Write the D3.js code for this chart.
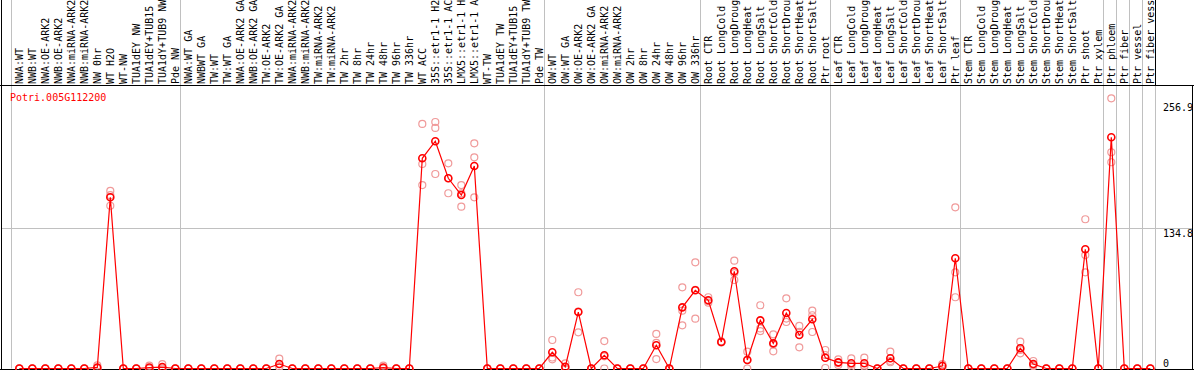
<!DOCTYPE html>
<html>
<head>
<meta charset="utf-8">
<script src="https://d3js.org/d3.v7.min.js"></script>
<style>
  body { margin: 0; background: #fff; }
  text { font-family: "DejaVu Sans Mono", monospace; font-size: 10px; }
</style>
</head>
<body>
<div id="my_dataviz"></div>
<script>

var geneId = "Potri.005G112200";

var labels = [
    "NWA:WT", "NWB:WT", "NWA:OE-ARK2", "NWB:OE-ARK2", "NWA:miRNA-ARK2", "NWB:miRNA-ARK2",
    "NW 0hr", "WT H2O", "WT-NW", "TUA1dEY NW", "TUA1dEY+TUB15", "TUA1dY+TUB9 NW", "Pde NW",
    "NWA:WT GA", "NWBWT GA", "TW:WT", "TW:WT GA", "NWA:OE-ARK2 GA", "NWB:OE-ARK2 GA",
    "TW:OE-ARK2", "TW:OE-ARK2 GA", "NWA:miRNA-ARK2", "NWB:miRNA-ARK2", "TW:miRNA-ARK2",
    "TW:miRNA-ARK2", "TW 2hr", "TW 8hr", "TW 24hr", "TW 48hr", "TW 96hr", "TW 336hr",
    "WT ACC", "35S::etr1-1 H2", "35S::etr1-1 AC", "LMX5::etr1-1 H", "LMX5::etr1-1 A",
    "WT-TW", "TUA1dEY TW", "TUA1dEY+TUB15", "TUA1dY+TUB9 TW", "Pde TW",
    "OW:WT", "OW:WT GA", "OW:OE-ARK2", "OW:OE-ARK2 GA", "OW:miRNA-ARK2", "OW:miRNA-ARK2",
    "OW 2hr", "OW 8hr", "OW 24hr", "OW 48hr", "OW 96hr", "OW 336hr",
    "Root CTR", "Root LongCold", "Root LongDroug", "Root LongHeat", "Root LongSalt",
    "Root ShortCold", "Root ShortDrou", "Root ShortHeat", "Root ShortSalt", "Ptr root",
    "Leaf CTR", "Leaf LongCold", "Leaf LongDroug", "Leaf LongHeat", "Leaf LongSalt",
    "Leaf ShortCold", "Leaf ShortDrou", "Leaf ShortHeat", "Leaf ShortSalt", "Ptr leaf",
    "Stem CTR", "Stem LongCold", "Stem LongDroug", "Stem LongHeat", "Stem LongSalt",
    "Stem ShortCold", "Stem ShortDrou", "Stem ShortHeat", "Stem ShortSalt",
    "Ptr shoot", "Ptr xylem", "Ptr phloem", "Ptr fiber", "Ptr vessel", "Ptr fiber vess"
];

// index of the last sample in each group (-1 = line before the first one)
var groupEnds = [-1, 12, 40, 52, 62, 72, 83, 84, 85, 86, 87];

var meanExpr = [
    0, 0, 0, 0, 0, 0, 1, 164.6, 0, 0, 0.9, 1.4, 0,
    0, 0, 0, 0, 0, 0, 0, 4.3, 0, 0, 0, 0, 0, 0, 0, 0.9, 0, 0, 202.1, 218.5, 182.9, 166.8, 194.7, 0, 0, 0, 0, 0,
    15.6, 1.7, 54.3, 0, 12.7, 0, 0, 0, 22.3, 0, 58.8, 75.2,
    65.6, 25.5, 93.5, 8.2, 46.3, 24.2, 53.4, 32.2, 47.3, 10.3,
    5.9, 5, 5, 0, 9.8, 0, 0, 0, 2.4, 106,
    0, 0, 0, 0, 19.4, 4.3, 0, 0, 0, 114.6, 0, 222.3, 0, 0, 0
];

var rep1 = [
    0, 0, 0, 0, 0, 0, 3, 170.7, 0, 0, 2.7, 4.3, 0,
    0, 0, 0, 0, 0, 0, 0, 9.4, 0, 0, 0, 0, 0, 0, 0, 2.7, 0, 0, 235.1, 237, 197.3, 176.4, 216.5, 0, 0, 0, 0, 0,
    27.4, 5, 73.3, 0, 26.4, 0, 0, 0, 33.2, 0, 78, 102.1,
    68.5, 26, 103.7, 16.2, 60.8, 32.9, 67.5, 40.9, 55.6, 17.8,
    8.8, 9.8, 10.4, 0, 16.2, 0, 0, 0, 4.3, 155,
    0, 0, 0, 0, 25.8, 7.2, 0, 0, 0, 143.5, 0, 259.8, 0, 0, 0
];

var rep2 = [
    0, 0, 0, 0, 0, 0, 0, 156.5, 0, 0, 0, 0, 0,
    0, 0, 0, 0, 0, 0, 0, 2, 0, 0, 0, 0, 0, 0, 0, 0, 0, 0, 196.6, 231.3, 168.5, 155.6, 203, 0, 0, 0, 0, 0,
    10.6, 0, 34.8, 0, 11.7, 0, 0, 0, 24.6, 0, 55.6, 75.6,
    65, 25, 91.7, 8.4, 38.5, 23.2, 48, 35.3, 51.2, 13,
    5.5, 3.5, 2.9, 0, 7.2, 0, 0, 0, 3, 92.5,
    0, 0, 0, 0, 17.8, 3.4, 0, 0, 0, 109.1, 0, 207.9, 0, 0, 0
];

var rep3 = [
    0, 0, 0, 0, 0, 0, 0, 166.6, 0, 0, 0, 0, 0,
    0, 0, 0, 0, 0, 0, 0, 1.5, 0, 0, 0, 0, 0, 0, 0, 0, 0, 0, 176.4, 187, 182.9, 168.4, 164.6, 0, 0, 0, 0, 0,
    8.8, 0, 54.8, 0, 0, 0, 0, 0, 9.1, 0, 41.5, 47.9,
    63.3, 25.5, 85.1, 0, 36, 16.5, 44.7, 20.4, 35.1, 0.5,
    3.4, 1.7, 1.7, 0, 6, 0, 0, 0, 0, 68.5,
    0, 0, 0, 0, 14.6, 2.3, 0, 0, 0, 92.5, 0, 198.3, 0, 0, 0
];

var yTicks = [0, 134.8, 256.9];

var width = 1194, height = 370,
    headerY = 85.5, baseY = 368.5;

var svg = d3.select("#my_dataviz")
    .append("svg")
    .attr("width", width)
    .attr("height", height);

var x = d3.scalePoint()
    .domain(d3.range(labels.length))
    .range([19.3, 19.3 + 13 * (labels.length - 1)]);

var y = d3.scaleLinear()
    .domain([0, 256.9])
    .range([baseY, 101.3]);

// horizontal grid line at the middle tick
svg.append("line")
    .attr("x1", 1).attr("x2", 1192)
    .attr("y1", Math.round(y(134.8)) + 0.5).attr("y2", Math.round(y(134.8)) + 0.5)
    .attr("stroke", "#c0c0c0");

// vertical separators between sample groups
var gx = function(k) { return Math.round(x(0) + (k + 0.36) * x.step()) + 0.5; };
svg.selectAll("line.sep")
    .data(groupEnds)
    .enter()
    .append("line")
    .attr("class", "sep")
    .attr("x1", gx).attr("x2", gx)
    .attr("y1", 0).attr("y2", baseY)
    .attr("stroke", function(d) { return d === 87 ? "#000" : "#c0c0c0"; });
svg.append("line")
    .attr("x1", gx(87)).attr("x2", gx(87))
    .attr("y1", headerY).attr("y2", baseY)
    .attr("stroke", "#c0c0c0");

// frame
svg.append("line").attr("x1", 0).attr("x2", width).attr("y1", headerY).attr("y2", headerY).attr("stroke", "#000");
svg.append("line").attr("x1", 0).attr("x2", width).attr("y1", 369.5).attr("y2", 369.5).attr("stroke", "#000");
svg.append("line").attr("x1", 1.5).attr("x2", 1.5).attr("y1", 0).attr("y2", height).attr("stroke", "#000");
svg.append("line").attr("x1", 1192.5).attr("x2", 1192.5).attr("y1", headerY).attr("y2", height).attr("stroke", "#000");

// sample names on top, rotated
var xAxis = svg.append("g")
    .attr("transform", "translate(0," + (headerY - 1.5) + ")")
    .call(d3.axisTop(x).tickSize(0).tickFormat(function(i) { return labels[i]; }));
xAxis.select(".domain").remove();
xAxis.selectAll("text")
    .attr("transform", "rotate(-90)")
    .attr("x", 0)
    .attr("y", 0)
    .attr("dy", "0.36em")
    .style("text-anchor", "start")
    .style("font-family", "DejaVu Sans Mono")
    .style("font-size", "10px")
    .attr("fill", "#000");

// value labels at right
var yAxis = svg.append("g")
    .attr("transform", "translate(1163,0)")
    .call(d3.axisRight(y).tickValues(yTicks).tickSize(0).tickPadding(0)
        .tickFormat(function(d) { return d === 0 ? "0" : d3.format(".1f")(d); }));
yAxis.select(".domain").remove();
yAxis.selectAll("text")
    .attr("dy", function(d) { return d === 0 ? "-0.25em" : (d === 134.8 ? "0.8em" : "0.95em"); })
    .style("font-family", "DejaVu Sans Mono")
    .style("font-size", "10px")
    .attr("fill", "#000");

// gene title
svg.append("text")
    .attr("x", 10)
    .attr("y", 101)
    .attr("fill", "red")
    .text(geneId);

// replicate points
var reps = [];
[rep1, rep2, rep3].forEach(function(arr) {
    arr.forEach(function(v, i) { reps.push({i: i, v: v}); });
});
svg.selectAll("circle.rep")
    .data(reps)
    .enter()
    .append("circle")
    .attr("class", "rep")
    .attr("cx", function(d) { return x(d.i); })
    .attr("cy", function(d) { return y(d.v); })
    .attr("r", 3.5)
    .attr("fill", "none")
    .attr("stroke", "#f09a9a")
    .attr("stroke-width", 1.2);

// mean line
var line = d3.line()
    .x(function(d, i) { return x(i); })
    .y(function(d) { return y(d); });
svg.append("path")
    .datum(meanExpr)
    .attr("d", line)
    .attr("fill", "none")
    .attr("stroke", "red")
    .attr("stroke-width", 1.2);

svg.selectAll("circle.mean")
    .data(meanExpr)
    .enter()
    .append("circle")
    .attr("class", "mean")
    .attr("cx", function(d, i) { return x(i); })
    .attr("cy", function(d) { return y(d); })
    .attr("r", 3.5)
    .attr("fill", "none")
    .attr("stroke", "red")
    .attr("stroke-width", 1.6);

</script>
</body>
</html>
